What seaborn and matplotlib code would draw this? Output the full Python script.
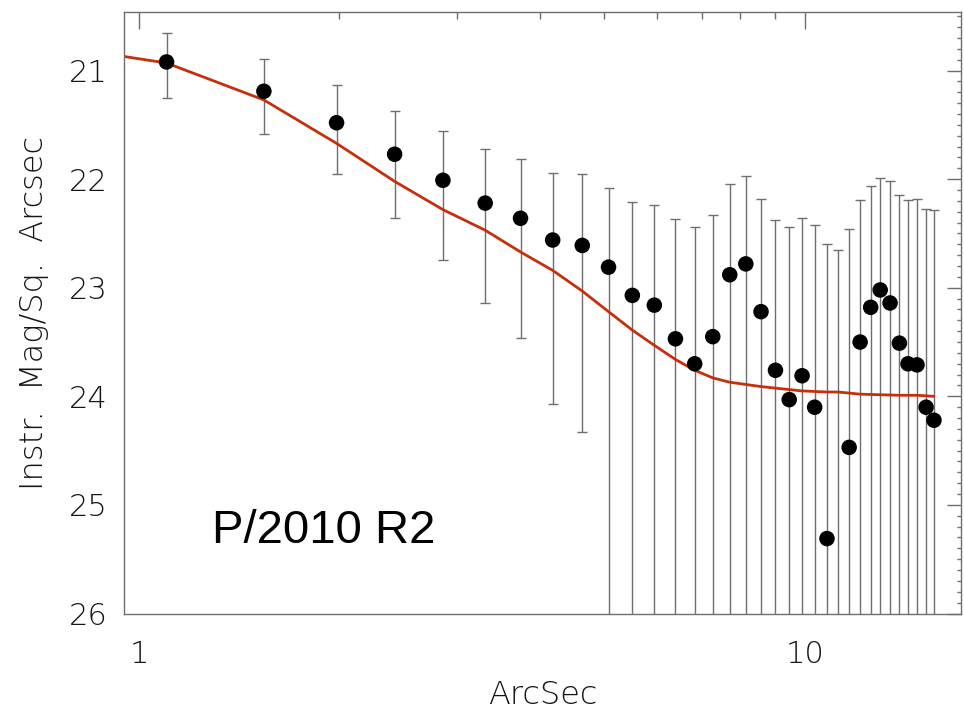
import numpy as np
import pandas as pd
import matplotlib
matplotlib.use("Agg")
import matplotlib.pyplot as plt
import seaborn as sns
from matplotlib.ticker import FixedLocator, FixedFormatter, NullFormatter, MultipleLocator

# Radial surface-brightness profile of P/2010 R2
radius = [1.10, 1.54, 1.98, 2.42, 2.86, 3.31, 3.74, 4.18, 4.63, 5.07,
          5.505, 5.94, 6.39, 6.83, 7.27, 7.71, 8.15, 8.59, 9.03, 9.47,
          9.90, 10.34, 10.79, 11.22, 11.65, 12.10, 12.55, 12.97, 13.42, 13.86,
          14.28, 14.73, 15.20, 15.62]
mag = [20.92, 21.19, 21.48, 21.77, 22.01, 22.22, 22.36, 22.56, 22.61, 22.81,
       23.07, 23.16, 23.47, 23.70, 23.45, 22.88, 22.78, 23.22, 23.76, 24.03,
       23.81, 24.10, 25.31, 26.60, 24.47, 23.50, 23.18, 23.02, 23.14, 23.51,
       23.70, 23.71, 24.10, 24.22]
# bright (upper) and faint (lower) ends of each error bar
mag_bright = [20.65, 20.89, 21.13, 21.37, 21.56, 21.72, 21.81, 21.94, 21.95, 22.08,
              22.21, 22.24, 22.37, 22.44, 22.33, 22.04, 21.97, 22.18, 22.38, 22.44,
              22.36, 22.42, 22.60, 22.65, 22.46, 22.19, 22.06, 21.99, 22.02, 22.15,
              22.19, 22.18, 22.27, 22.28]
mag_faint = [21.25, 21.58, 21.95, 22.36, 22.74, 23.14, 23.46, 24.07, 24.33, 27.0,
             27.0, 27.0, 27.0, 27.0, 27.0, 27.0, 27.0, 27.0, 27.0, 27.0,
             27.0, 27.0, 27.0, 27.0, 27.0, 27.0, 27.0, 27.0, 27.0, 27.0,
             27.0, 27.0, 27.0, 27.0]

# Model profile
model_radius = [0.66, 1.10, 1.54, 1.98, 2.42, 2.86, 3.31, 3.74, 4.18, 4.63, 5.07,
                5.505, 5.94, 6.39, 6.83, 7.27, 7.71, 8.59, 9.90, 10.79, 11.22,
                12.10, 13.86, 14.73, 15.62]
model_mag = [20.72, 20.93, 21.27, 21.67, 22.02, 22.28, 22.47, 22.67, 22.84, 23.03, 23.22,
             23.39, 23.53, 23.66, 23.76, 23.83, 23.87, 23.91, 23.95, 23.96, 23.96,
             23.98, 23.99, 23.99, 24.00]

df = pd.DataFrame({"r": radius, "m": mag})
model = pd.DataFrame({"r": model_radius, "m": model_mag})

sns.set_style("white")
plt.rcParams["font.family"] = ["DejaVu Sans"]

fig = plt.figure(figsize=(9.64, 7.15), dpi=100)
ax = fig.add_axes([124 / 964, 1 - 613.5 / 715, (961 - 124) / 964, (613.5 - 12) / 715])

grey = "#6e6e6e"
ink = "#151515"
m = np.array(mag)
ax.errorbar(radius, mag,
            yerr=[m - np.array(mag_bright), np.array(mag_faint) - m],
            fmt="none", ecolor=grey, elinewidth=1.0, capsize=3.3, capthick=1.0,
            zorder=1)
sns.lineplot(data=model, x="r", y="m", ax=ax, color="#c4300c", lw=2.0,
             sort=False, estimator=None, zorder=2)
sns.scatterplot(data=df, x="r", y="m", ax=ax, color="black", s=125,
                edgecolor="none", zorder=3)

ax.set_xscale("log")
ax.set_xlim(0.9495, 17.15)
ax.set_ylim(26.0, 20.46)

ax.xaxis.set_major_locator(FixedLocator([1, 10]))
ax.xaxis.set_minor_locator(FixedLocator([2, 3, 4, 5, 6, 7, 8, 9]))
ax.xaxis.set_major_formatter(FixedFormatter(["1", "10"]))
ax.xaxis.set_minor_formatter(NullFormatter())
ax.yaxis.set_major_locator(MultipleLocator(1))
ax.yaxis.set_minor_locator(MultipleLocator(0.1))

for s in ax.spines.values():
    s.set_color(grey)
    s.set_linewidth(1.0)

ax.tick_params(axis="both", which="both", direction="in", color=grey,
               top=True, right=False, width=1.0)
ax.tick_params(axis="both", which="both", labelcolor=ink)
ax.tick_params(axis="x", which="major", length=12, labelsize=22, pad=19)
ax.tick_params(axis="x", which="minor", length=5)
ax.tick_params(axis="y", which="major", length=17, labelsize=22, pad=12)
ax.tick_params(axis="y", which="minor", length=9)
for lab in ax.get_xticklabels() + ax.get_yticklabels():
    lab.set_fontweight("light")

# right-hand axis carries shorter ticks
sec = ax.secondary_yaxis("right")
sec.yaxis.set_major_locator(MultipleLocator(1))
sec.yaxis.set_minor_locator(MultipleLocator(0.1))
sec.yaxis.set_major_formatter(NullFormatter())
sec.spines["right"].set_visible(False)
sec.tick_params(which="both", direction="in", color=grey, width=1.0)
sec.tick_params(which="major", length=10)
sec.tick_params(which="minor", length=3)

ax.set_xlabel("ArcSec", fontsize=23, fontweight="light", color=ink, labelpad=8)
ax.set_ylabel("Instr.  Mag/Sq.  Arcsec", fontsize=23, fontweight="light",
              color=ink, labelpad=14)

ax.text(1.287, 25.35, "P/2010 R2", fontsize=34, color="black",
        family=["Liberation Sans", "DejaVu Sans"], ha="left", va="baseline")

fig.savefig("out.png", dpi=100)
